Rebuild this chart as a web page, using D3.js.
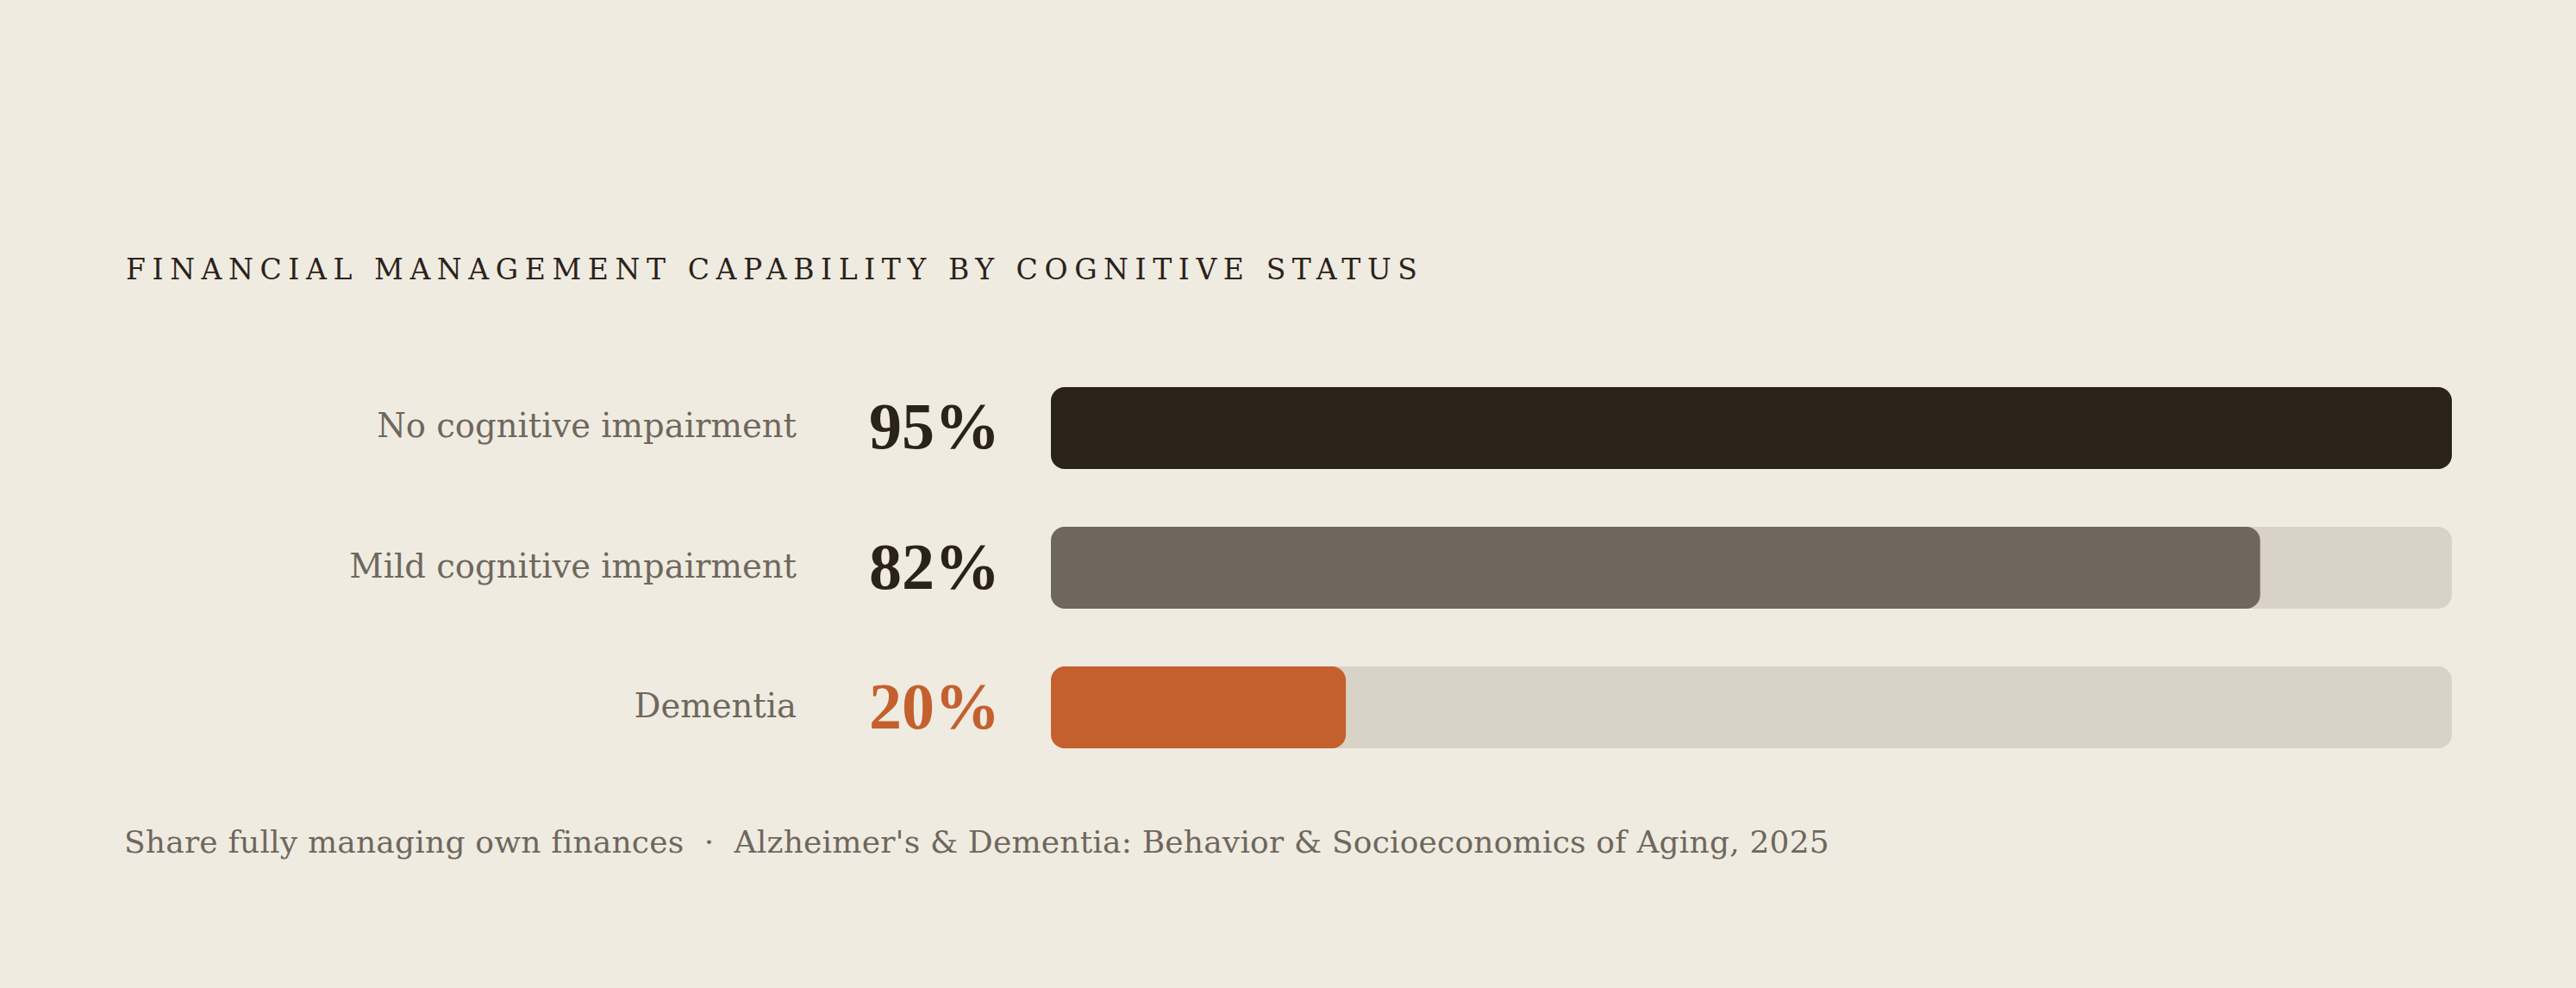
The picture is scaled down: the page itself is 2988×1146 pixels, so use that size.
<!DOCTYPE html>
<html>
<head>
<meta charset="utf-8">
<script src="https://cdn.jsdelivr.net/npm/d3@7"></script>
<style>
  html, body { margin: 0; padding: 0; background: #efebe1; }
  svg { display: block; }
</style>
</head>
<body>
<div id="chart"></div>
<script>
// chart data
const categories = ['No cognitive impairment', 'Mild cognitive impairment', 'Dementia'];
const shares = [95, 82, 20];
const valueLabels = ['95%', '82%', '20%'];
const barColors = ['#2b221a', '#6f675d', '#c4602d'];
const numberColors = ['#2b221a', '#2b221a', '#c4602d'];

const titleText = 'FINANCIAL MANAGEMENT CAPABILITY BY COGNITIVE STATUS';
const footerText = 'Share fully managing own finances  \u00b7  Alzheimer\'s & Dementia: Behavior & Socioeconomics of Aging, 2025';

const W = 2988, H = 1146;
const BG = '#efebe1', TRACK = '#d9d2c6', MUTED = '#6f675d', INK = '#2b221a';

const svg = d3.select('#chart').append('svg')
  .attr('width', W)
  .attr('height', H);

svg.append('rect')
  .attr('width', W)
  .attr('height', H)
  .attr('fill', BG);

// title
svg.append('text')
  .attr('x', 146)
  .attr('y', 324)
  .attr('fill', INK)
  .style('font-family', '"DejaVu Serif", serif')
  .style('font-size', '33px')
  .style('letter-spacing', '7.6px')
  .text(titleText);

// scales
const x = d3.scaleLinear()
  .domain([0, d3.max(shares)])
  .range([1219, 2844]);

const y = d3.scaleBand()
  .domain(categories)
  .range([449, 868])
  .paddingInner(0.4136)
  .paddingOuter(0);

const bh = y.bandwidth();
const radius = 16;

const rows = svg.append('g').selectAll('g')
  .data(categories)
  .join('g');

// background tracks
rows.append('rect')
  .attr('x', x(0))
  .attr('y', d => y(d))
  .attr('width', x.range()[1] - x(0))
  .attr('height', bh)
  .attr('rx', radius)
  .attr('fill', TRACK);

// value bars
rows.append('rect')
  .attr('x', x(0))
  .attr('y', d => y(d))
  .attr('width', (d, i) => x(shares[i]) - x(0))
  .attr('height', bh)
  .attr('rx', radius)
  .attr('fill', (d, i) => barColors[i]);

// category labels
rows.append('text')
  .attr('x', 924)
  .attr('y', d => y(d) + bh / 2 + 11)
  .attr('text-anchor', 'end')
  .attr('fill', MUTED)
  .style('font-family', '"DejaVu Serif", serif')
  .style('font-size', '38.5px')
  .text(d => d);

// big percentages
rows.append('text')
  .attr('x', 1160)
  .attr('y', d => y(d) + bh / 2 + 24)
  .attr('text-anchor', 'end')
  .attr('fill', (d, i) => numberColors[i])
  .style('font-family', '"Liberation Serif", serif')
  .style('font-weight', 'bold')
  .style('font-size', '76px')
  .text((d, i) => valueLabels[i]);

// footer note
svg.append('text')
  .attr('x', 144)
  .attr('y', 989)
  .attr('fill', MUTED)
  .attr('xml:space', 'preserve')
  .style('white-space', 'pre')
  .style('font-family', '"DejaVu Serif", serif')
  .style('font-size', '36px')
  .style('letter-spacing', '0.2px')
  .text(footerText);
</script>
</body>
</html>
